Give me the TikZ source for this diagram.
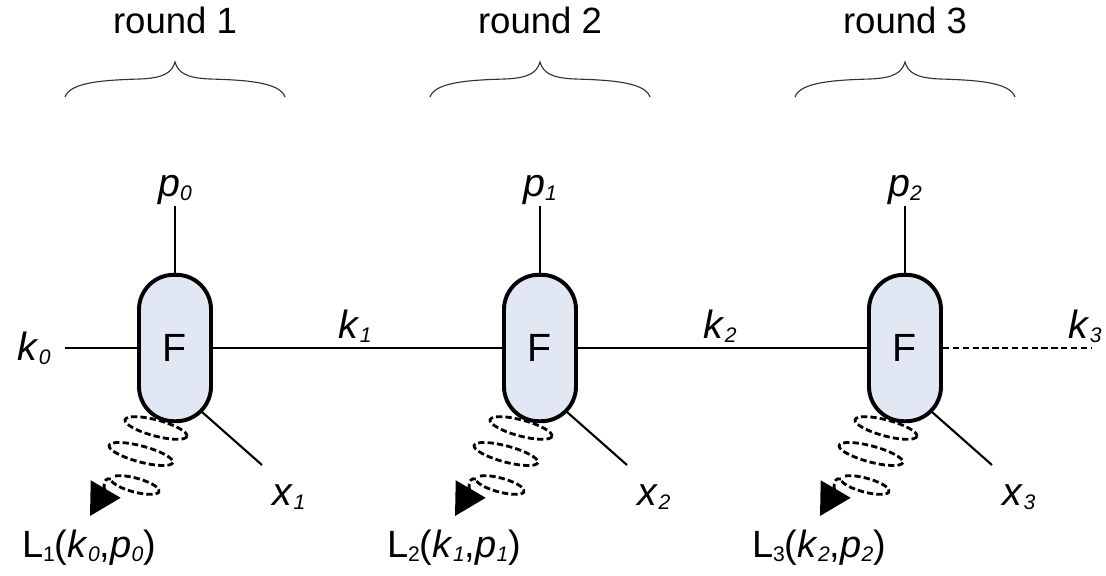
\documentclass[tikz,border=0pt]{standalone}
\usepackage{fontspec}
\setmainfont{Liberation Sans}
\usetikzlibrary{arrows.meta,positioning,calc}
\definecolor{Pale}{HTML}{E1E8F4}
\newcommand{\subidx}[1]{\raisebox{-0.2ex}{\fontsize{15}{15}\selectfont #1}}
\newcommand{\ivar}[2]{\textit{#1}\subidx{\textit{#2}}}

\begin{document}
\begin{tikzpicture}[x=0.025cm, y=-0.025cm,
    fbox/.style={draw=black, fill=Pale, line width=2.8pt, rounded corners=0.87cm, minimum width=1.8cm, minimum height=3.66cm, inner sep=0pt, font=\fontsize{28}{30}\selectfont},
    wire/.style={line width=1.5pt},
    coil/.style={line width=2pt, dash pattern=on 4.5pt off 2.2pt},
    lbl/.style={font=\fontsize{28}{30}\selectfont, inner sep=1pt},
    llbl/.style={font=\fontsize{27}{30}\selectfont, inner sep=1pt},
    title/.style={font=\fontsize{26}{30}\selectfont, inner sep=0pt},
    brace/.style={line width=0.8pt, draw=black!80}
  ]
  \useasboundingbox (0,0) rectangle (1106,575);

  \foreach \i/\x [evaluate=\i as \j using int(\i-1)] in {1/175,2/540,3/905} {
    % one round
    \node[title] (r\i) at (\x,20) {round \i};
    \draw[brace] (\x-110,97) .. controls (\x-105,82) and (\x-70,80) .. (\x-35,79)
      .. controls (\x-10,78) and (\x-3,72) .. (\x,62)
      .. controls (\x+3,72) and (\x+10,78) .. (\x+35,79)
      .. controls (\x+70,80) and (\x+105,82) .. (\x+110,97);

    \node[fbox] (F\i) at (\x,348) {F};
    \node[lbl] (p\j) at (\x,190) {\ivar{p}{\j}};
    \draw[wire] (p\j) -- (F\i);

    \coordinate (xe\i) at (\x+87,465);
    \node[lbl] (x\i) at (\x+114,497) {\ivar{x}{\i}};
    \draw[wire] ($(F\i.center)+(27,64)$) -- (xe\i);

    \node[lbl] (k\i) at (\x+180,326) {\ivar{k}{\i}};
    \node[llbl] (L\i) at (\x-86,548) {L\subidx{\i}(\ivar{k}{\j},\ivar{p}{\j})};

    % leakage coil
    \begin{scope}[shift={(F\i.center)}]
      \draw[coil, rotate around={-15:(-19,80)}] (-19,80) ellipse [x radius=32, y radius=8];
      \draw[coil, rotate around={-15:(-34,106)}] (-34,106) ellipse [x radius=33, y radius=8];
      \draw[coil, rotate around={-15:(-40,137)}] ($(-40,137)+(-150:25 and 7)$)
        arc[start angle=-150, end angle=175, x radius=25, y radius=7] coordinate (c\i);
      \coordinate (tip\i) at (-85,168);
    \end{scope}
    \draw[coil, -{Triangle[length=0.78cm, width=0.85cm]}] (c\i) .. controls +(-9,-3) and +(14,-24) .. (tip\i);
  }

  \node[lbl] (k0) at (34,348) {\ivar{k}{0}};
  \coordinate (kin) at (65,348);
  \coordinate (kout) at (1092,348);
  \draw[wire] (kin) -- (F1);
  \draw[wire] (F1) -- (F2);
  \draw[wire] (F2) -- (F3);
  \draw[wire, dash pattern=on 4.5pt off 2.5pt] (F3) -- (kout);
\end{tikzpicture}
\end{document}
